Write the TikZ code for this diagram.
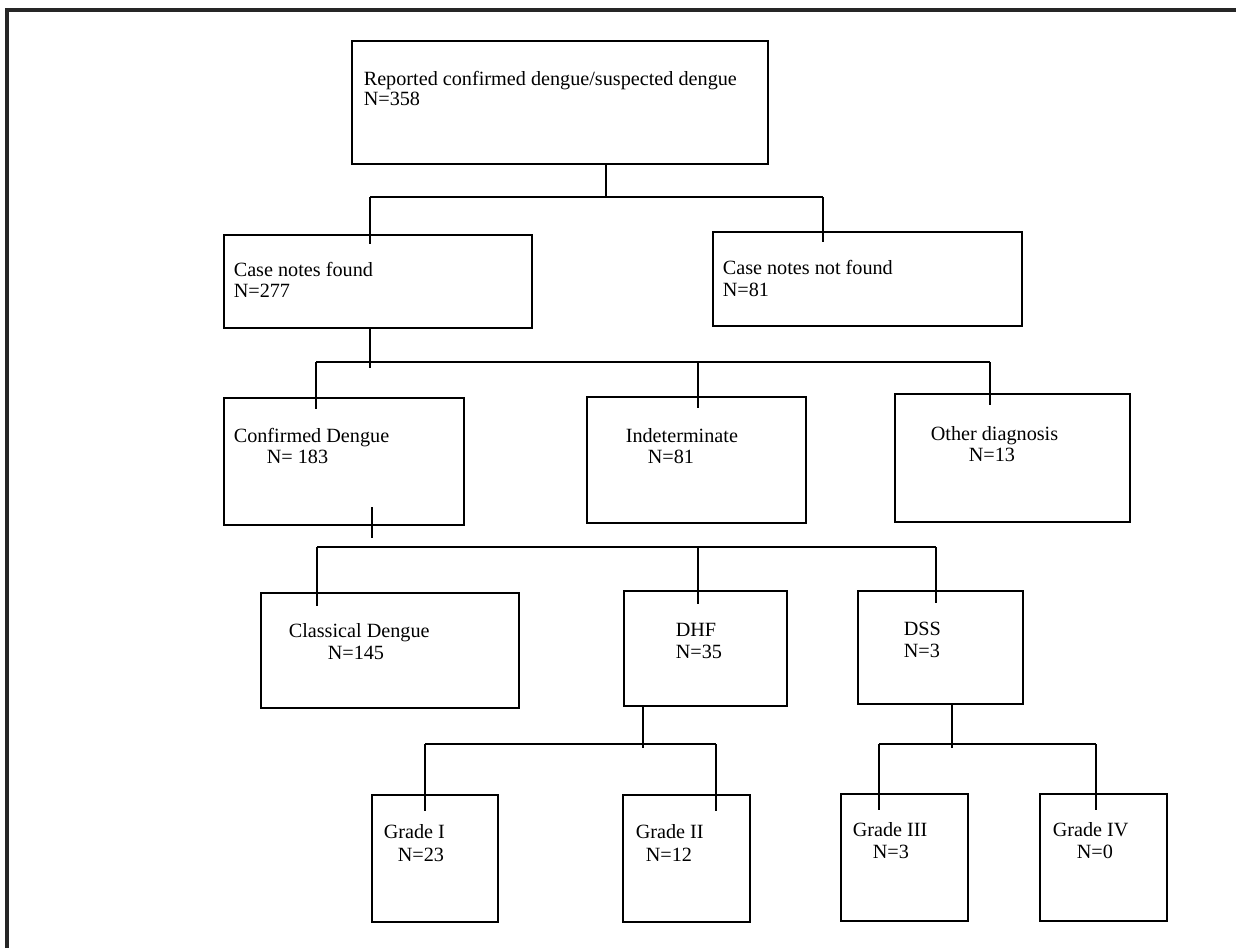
\documentclass[tikz,border=0pt]{standalone}
\usepackage{fontspec}
\setmainfont{Liberation Serif}
\usepackage{tikz}

\begin{document}
\begin{tikzpicture}[x=0.02cm, y=-0.02cm, line width=0.9pt,
	box/.style args={#1/#2}{draw, anchor=north west, inner sep=0pt, outer sep=0pt,
		minimum width=#1*0.02cm, minimum height=#2*0.02cm},
	lbl/.style={anchor=base west, inner sep=0pt, font=\fontsize{11.5}{13}\selectfont}]
		\useasboundingbox (0,0) rectangle (1236,948);
		\draw[line width=2.3pt, black!85] (7,948) -- (7,10) -- (1236,10);
		
		% boxes
		\node[box=416/123] (rep) at (352,41) {};
		
		\node[box=308/93] (found) at (224,235) {};
		\node[box=309/94] (notfound) at (713,232) {};
		
		\node[box=240/127] (conf) at (224,398) {};
		\node[box=219/126] (indet) at (587,397) {};
		\node[box=235/128] (other) at (895,394) {};
		
		\node[box=258/115] (classic) at (261,593) {};
		\node[box=163/115] (dhf) at (624,591) {};
		\node[box=165/113] (dss) at (858,591) {};
		
		\node[box=126/127] (g1) at (372,795) {};
		\node[box=127/127] (g2) at (623,795) {};
		\node[box=127/127] (g3) at (841,794) {};
		\node[box=127/127] (g4) at (1040,794) {};
		
		% texts
		\node[lbl] (rep1) at (363,85) {Reported confirmed dengue/suspected dengue};
		\node[lbl] (rep2) at (363,105) {N=358};
		\node[lbl] (found1) at (233,276) {Case notes found};
		\node[lbl] (found2) at (233,297) {N=277};
		\node[lbl] (notfound1) at (722,274) {Case notes not found};
		\node[lbl] (notfound2) at (722,296) {N=81};
		
		\node[lbl] (conf1) at (233,442) {Confirmed Dengue};
		\node[lbl] (conf2) at (266,463) {N= 183};
		\node[lbl] (indet1) at (625,442) {Indeterminate};
		\node[lbl] (indet2) at (647,463) {N=81};
		\node[lbl] (other1) at (930,440) {Other diagnosis};
		\node[lbl] (other2) at (968,461) {N=13};
		
		\node[lbl] (classic1) at (288,637) {Classical Dengue};
		\node[lbl] (classic2) at (327,659) {N=145};
		\node[lbl] (dhf1) at (675,636) {DHF};
		\node[lbl] (dhf2) at (675,658) {N=35};
		\node[lbl] (dss1) at (903,635) {DSS};
		\node[lbl] (dss2) at (903,657) {N=3};
		
		\node[lbl] (g1a) at (383,838) {Grade I};
		\node[lbl] (g1b) at (397,861) {N=23};
		\node[lbl] (g2a) at (635,838) {Grade II};
		\node[lbl] (g2b) at (645,861) {N=12};
		\node[lbl] (g3a) at (852,836) {Grade III};
		\node[lbl] (g3b) at (872,858) {N=3};
		\node[lbl] (g4a) at (1052,836) {Grade IV};
		\node[lbl] (g4b) at (1076,858) {N=0};
		
		% bus points
		\coordinate (j1) at (606,197);
		\coordinate (b1l) at (370,197);
		\coordinate (b1r) at (823,197);
		
		\coordinate (j2) at (370,368);
		\coordinate (b2l) at (316,362);
		\coordinate (b2m) at (698,362);
		\coordinate (b2r) at (990,362);
		
		\coordinate (j3a) at (372,507);
		\coordinate (j3b) at (372,538);
		\coordinate (b3l) at (317,547);
		\coordinate (b3m) at (698,547);
		\coordinate (b3r) at (936,547);
		
		\coordinate (j4) at (643,748);
		\coordinate (b4l) at (425,744);
		\coordinate (b4r) at (716,744);
		\coordinate (j5) at (952,748);
		\coordinate (b5l) at (879,744);
		\coordinate (b5r) at (1096,744);
		
		% connectors
		\draw (rep.south -| j1) -- (j1);
		\draw (b1l) -- (b1r);
		\draw (b1l) -- (b1l |- found.north) -- ++(0,9);
		\draw (b1r) -- (b1r |- notfound.north) -- ++(0,10);
		
		\draw (found.south -| j2) -- (j2);
		\draw (b2l) -- (b2r);
		\draw (b2l) -- (b2l |- conf.north) -- ++(0,11);
		\draw (b2m) -- (b2m |- indet.north) -- ++(0,11);
		\draw (b2r) -- (b2r |- other.north) -- ++(0,11);
		
		\draw (j3a) -- (j3b);
		\draw (b3l) -- (b3r);
		\draw (b3l) -- (b3l |- classic.north) -- ++(0,13);
		\draw (b3m) -- (b3m |- dhf.north) -- ++(0,13);
		\draw (b3r) -- (b3r |- dss.north) -- ++(0,12);
		
		\draw (dhf.south -| j4) -- (j4);
		\draw (b4l) -- (b4r);
		\draw (b4l) -- (b4l |- g1.north) -- ++(0,16);
		\draw (b4r) -- (b4r |- g2.north) -- ++(0,16);
		
		\draw (dss.south -| j5) -- (j5);
		\draw (b5l) -- (b5r);
		\draw (b5l) -- (b5l |- g3.north) -- ++(0,16);
		\draw (b5r) -- (b5r |- g4.north) -- ++(0,16);
	\end{tikzpicture}
\end{document}
